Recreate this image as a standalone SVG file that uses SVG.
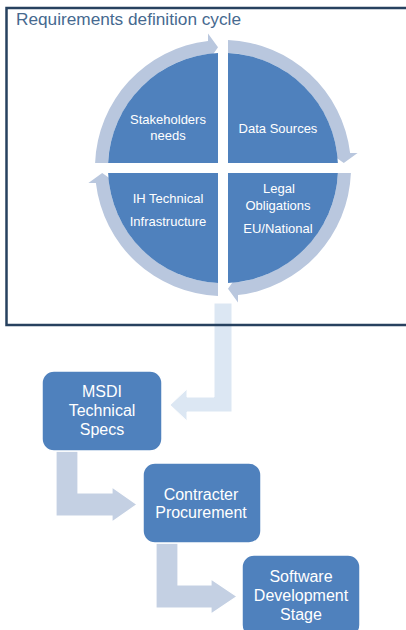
<svg xmlns="http://www.w3.org/2000/svg" xmlns:xlink="http://www.w3.org/1999/xlink" width="406" height="630" viewBox="0 0 406 630">
<style>
  .pie { fill: #4f81bd; }
  .ring { fill: #b9c7de; }
  .box { fill: #4f81bd; stroke: #ffffff; stroke-width: 1.5; }
  .flow { fill: #c4d0e3; stroke: #ffffff; stroke-width: 1.2; }
  .flowlight { fill: #dce7f3; stroke: #ffffff; stroke-width: 1; }
  .lbl { font-family: "Liberation Sans", Arial, sans-serif; font-size: 13px; fill: #ffffff; text-anchor: middle; }
  .blbl { font-family: "Liberation Sans", Arial, sans-serif; font-size: 16px; fill: #ffffff; text-anchor: middle; }
  .title { font-family: "Liberation Sans", Arial, sans-serif; font-size: 16px; fill: #46698f; }
</style>
<defs>
  <path id="ringTL" d="M 95.10 163 A 128 128 0 0 1 208 40.88 L 208 33.4 L 218 47.2 L 208 61.4 L 208 53.98 A 115 115 0 0 0 108.11 163 Z"/>
</defs>
<rect x="0" y="0" width="406" height="630" fill="#ffffff"/>

<g id="connectors">
  <path id="arrow-cycle-to-msdi" class="flowlight" d="M 214 303 L 232 303 L 232 412 L 187 412 L 187 421 L 170 405 L 187 389 L 187 397 L 214 397 Z"/>
  <path id="arrow-msdi-to-contracter" class="flow" d="M 56 451 L 78 451 L 78 493 L 112 493 L 112 487 L 137 504.5 L 112 522 L 112 516 L 56 516 Z"/>
  <path id="arrow-contracter-to-software" class="flow" d="M 156 543 L 178 543 L 178 585 L 211 585 L 211 579 L 237 596.5 L 211 614 L 211 608 L 156 608 Z"/>
  <g id="cycle-ring">
    <use xlink:href="#ringTL" class="ring"/>
    <use xlink:href="#ringTL" class="ring" transform="rotate(90 223 168)"/>
    <use xlink:href="#ringTL" class="ring" transform="rotate(180 223 168)"/>
    <use xlink:href="#ringTL" class="ring" transform="rotate(270 223 168)"/>
  </g>
</g>

<g id="frame">
  <rect x="6.5" y="8" width="420" height="317" fill="none" stroke="#27415f" stroke-width="2.5"/>
  <text class="title" x="16" y="25" textLength="225" lengthAdjust="spacingAndGlyphs">Requirements definition cycle</text>
</g>

<g id="stakeholders">
  <path class="pie" d="M 218 163 L 108.11 163 A 115 115 0 0 1 218 53.11 Z"/>
  <text class="lbl" x="168" y="124">Stakeholders</text>
  <text class="lbl" x="168" y="140">needs</text>
</g>
<g id="data-sources">
  <path class="pie" d="M 228 163 L 228 53.11 A 115 115 0 0 1 337.89 163 Z"/>
  <text class="lbl" x="278" y="133">Data Sources</text>
</g>
<g id="legal">
  <path class="pie" d="M 228 173 L 337.89 173 A 115 115 0 0 1 228 282.89 Z"/>
  <text class="lbl" x="279" y="193">Legal</text>
  <text class="lbl" x="278" y="210">Obligations</text>
  <text class="lbl" x="278" y="233">EU/National</text>
</g>
<g id="ih-technical">
  <path class="pie" d="M 218 173 L 218 282.89 A 115 115 0 0 1 108.11 173 Z"/>
  <text class="lbl" x="168" y="203">IH Technical</text>
  <text class="lbl" x="168" y="226">Infrastructure</text>
</g>

<g id="msdi">
  <rect class="box" x="42" y="371" width="120" height="80" rx="12"/>
  <text class="blbl" x="102" y="397">MSDI</text>
  <text class="blbl" x="102" y="416">Technical</text>
  <text class="blbl" x="102" y="435">Specs</text>
</g>
<g id="contracter">
  <rect class="box" x="143" y="463" width="118" height="80" rx="12"/>
  <text class="blbl" x="201" y="500">Contracter</text>
  <text class="blbl" x="201" y="518">Procurement</text>
</g>
<g id="software">
  <rect class="box" x="242" y="555" width="118" height="82" rx="12"/>
  <text class="blbl" x="301" y="582">Software</text>
  <text class="blbl" x="301" y="601">Development</text>
  <text class="blbl" x="301" y="620">Stage</text>
</g>
</svg>
